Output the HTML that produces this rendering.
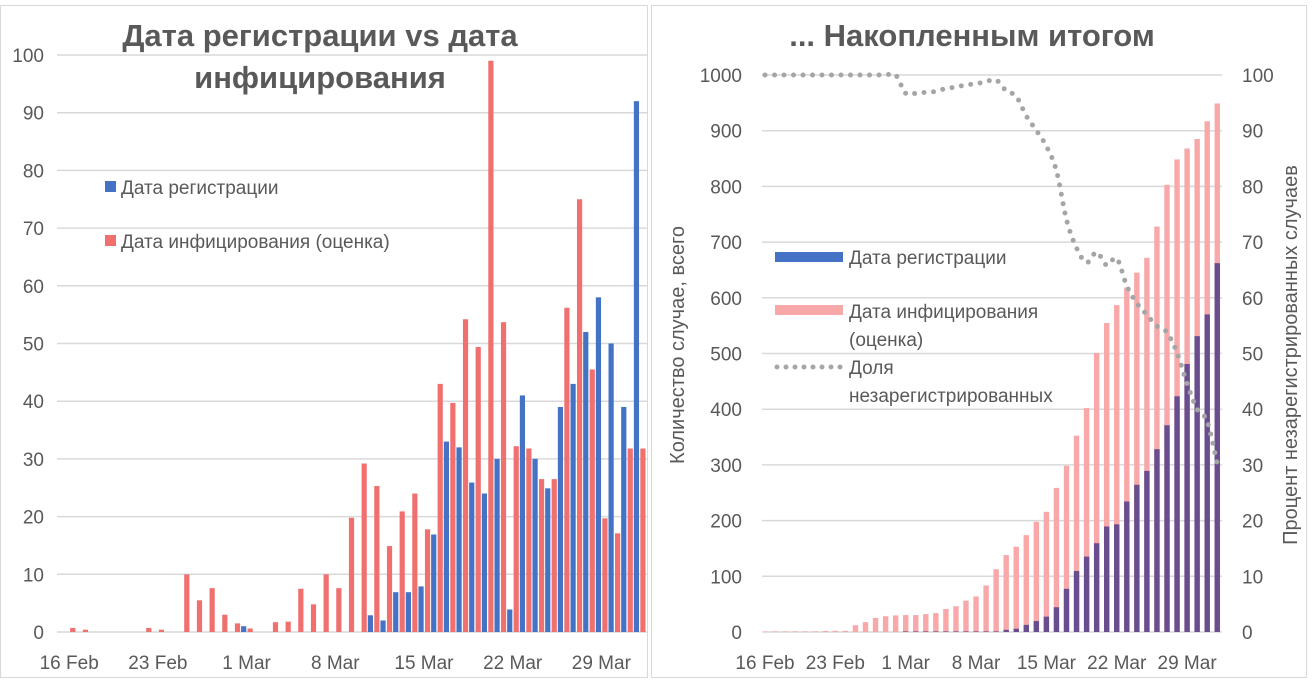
<!DOCTYPE html>
<html><head><meta charset="utf-8"><style>
body{margin:0;background:#fff;}
svg text{font-family:"Liberation Sans",Arial,sans-serif;fill:#595959;}
</style></head><body>
<svg id="c" width="1312" height="683" xmlns="http://www.w3.org/2000/svg">
<rect x="0.5" y="5.5" width="647" height="672" fill="#fff" stroke="#d9d9d9"/>
<rect x="651.5" y="5.5" width="655" height="672" fill="#fff" stroke="#d9d9d9"/>
<text x="320" y="46" font-size="31" font-weight="bold" text-anchor="middle">Дата регистрации vs дата</text>
<text x="320" y="88" font-size="31" font-weight="bold" text-anchor="middle">инфицирования</text>
<text x="972" y="46" font-size="31" font-weight="bold" text-anchor="middle">... Накопленным итогом</text>
<g id="L"></g><g id="R"></g>
<rect x="105" y="181" width="11" height="11" fill="#4472c4"/>
<text x="121" y="194" font-size="19">Дата регистрации</text>
<rect x="105" y="235" width="11" height="11" fill="#f07070"/>
<text x="121" y="248" font-size="19">Дата инфицирования (оценка)</text>
<rect x="775" y="252" width="68" height="10" fill="#4472c4"/>
<text x="849" y="264" font-size="19">Дата регистрации</text>
<rect x="775" y="305" width="68" height="10" fill="#f8a8a8"/>
<text x="849" y="318" font-size="19">Дата инфицирования</text>
<text x="849" y="346" font-size="19">(оценка)</text>
<line x1="777" y1="367" x2="841" y2="367" stroke="#a5a5a5" stroke-width="5" stroke-linecap="round" stroke-dasharray="0 9"/>
<text x="849" y="374" font-size="19">Доля</text>
<text x="849" y="402" font-size="19">незарегистрированных</text>
<text transform="translate(684,345) rotate(-90)" font-size="20" text-anchor="middle">Количество случае, всего</text>
<text transform="translate(1297,355) rotate(-90)" font-size="20" text-anchor="middle">Процент незарегистрированных случаев</text>
</svg>
<script>
const days = ["16 Feb","17 Feb","18 Feb","19 Feb","20 Feb","21 Feb","22 Feb","23 Feb","24 Feb","25 Feb","26 Feb","27 Feb","28 Feb","29 Feb","1 Mar","2 Mar","3 Mar","4 Mar","5 Mar","6 Mar","7 Mar","8 Mar","9 Mar","10 Mar","11 Mar","12 Mar","13 Mar","14 Mar","15 Mar","16 Mar","17 Mar","18 Mar","19 Mar","20 Mar","21 Mar","22 Mar","23 Mar","24 Mar","25 Mar","26 Mar","27 Mar","28 Mar","29 Mar","30 Mar","31 Mar","1 Apr","2 Apr"];
const infected = [0,0.7,0.4,0,0,0,0,0.7,0.4,0,10,5.5,7.6,3,1.5,0.6,0,1.7,1.8,7.5,4.8,10,7.6,19.8,29.2,25.3,14.9,20.9,24,17.8,43,39.7,54.2,49.4,99,53.7,32.2,31.8,26.5,26.5,56.2,75,45.5,19.7,17.1,31.8,31.8];
const registered = [0,0,0,0,0,0,0,0,0,0,0,0,0,0,1,0,0,0,0,0,0,0,0,0,2.9,2,6.9,6.9,7.9,16.9,33,32,25.9,24,30,3.9,41,30,24.9,39,43,52,58,50,39,92,0];
const leftTicks = [0,10,20,30,40,50,60,70,80,90,100];
const rightTicks = [0,100,200,300,400,500,600,700,800,900,1000];
const pctTicks = [0,10,20,30,40,50,60,70,80,90,100];
const tickDays = ["16 Feb","23 Feb","1 Mar","8 Mar","15 Mar","22 Mar","29 Mar"];
const NS="http://www.w3.org/2000/svg";
function mk(p,t,a){const e=document.createElementNS(NS,t);for(const k in a)e.setAttribute(k,a[k]);p.appendChild(e);return e;}
// left
const L=document.getElementById('L');
const ly=v=>632-v*5.77, lx=i=>63.2+i*12.67;
leftTicks.forEach(t=>{
  const g=mk(L,'line',{x1:57,x2:648,y1:ly(t),y2:ly(t),stroke:'#d9d9d9','stroke-width':1.5});
  
  
  const tx=mk(L,'text',{x:44,y:ly(t)+7,'font-size':19,'text-anchor':'end'});tx.textContent=t;
  
  
});
infected.forEach((v,i)=>{
  const r=mk(L,'rect',{x:lx(i)-5.7,y:ly(v),width:5.2,height:632-ly(v),fill:'#f07070'});
  
  
});
registered.forEach((v,i)=>{
  const r=mk(L,'rect',{x:lx(i)+0.5,y:ly(v),width:5.2,height:632-ly(v),fill:'#4472c4'});
  
  
});
tickDays.forEach(d=>{
  const i=days.indexOf(d);
  const tx=mk(L,'text',{x:lx(i)+6,y:669,'font-size':19,'text-anchor':'middle'});tx.textContent=d;
  
  
});
// right
const R=document.getElementById('R');
const ry=v=>632-v*0.557, py=v=>632-v*5.57, rx=i=>765+i*10.05;
rightTicks.forEach((t,k)=>{
  const g=mk(R,'line',{x1:762,x2:1222,y1:ry(t),y2:ry(t),stroke:'#d9d9d9','stroke-width':1.5});
  
  
  const tx=mk(R,'text',{x:742,y:ry(t)+7,'font-size':19,'text-anchor':'end'});tx.textContent=t;
  
  
});
pctTicks.forEach(t=>{
  const tx=mk(R,'text',{x:1242,y:py(t)+7,'font-size':19});tx.textContent=t;
  
  
});
let ci=infected[0],cr=0;const pts=[];
for(let i=0;i<46;i++){
  ci+=infected[i+1];cr+=registered[i];
  const a=mk(R,'rect',{x:rx(i)-2.7,y:ry(ci),width:5.4,height:632-ry(ci),fill:'#f8a8a8'});
  
  
  const b=mk(R,'rect',{x:rx(i)-2.7,y:ry(cr),width:5.4,height:632-ry(cr),fill:'#6a4d8e'});
  
  
  const p=ci>0?100*(1-cr/ci):100;
  pts.push([rx(i),py(p)]);
}
let d='M'+pts[0][0]+','+pts[0][1];
for(let i=0;i<pts.length-1;i++){
  const p0=pts[Math.max(0,i-1)],p1=pts[i],p2=pts[i+1],p3=pts[Math.min(pts.length-1,i+2)];
  d+=` C${p1[0]+(p2[0]-p0[0])/6},${p1[1]+(p2[1]-p0[1])/6} ${p2[0]-(p3[0]-p1[0])/6},${p2[1]-(p3[1]-p1[1])/6} ${p2[0]},${p2[1]}`;
}
const ln=mk(R,'path',{d:d,fill:'none',stroke:'#a5a5a5','stroke-width':5,'stroke-linecap':'round','stroke-dasharray':'0 9.5'});


tickDays.forEach(dd=>{
  const i=days.indexOf(dd);
  const tx=mk(R,'text',{x:rx(i),y:669,'font-size':19,'text-anchor':'middle'});tx.textContent=dd;
  
  
});
</script>
</body></html>
